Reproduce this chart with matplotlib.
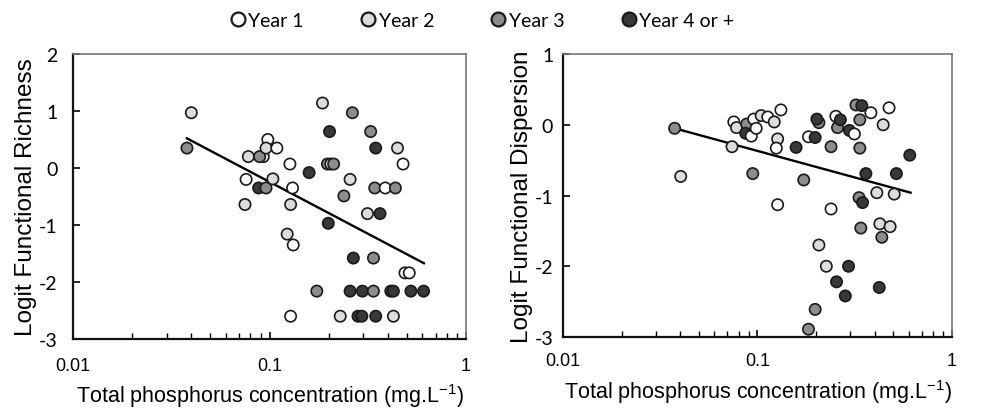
import numpy as np
import matplotlib
matplotlib.use("Agg")
import matplotlib.pyplot as plt
from matplotlib.lines import Line2D
from matplotlib.ticker import FixedLocator, LogLocator, NullFormatter

plt.rcParams['font.family'] = ['Liberation Sans', 'DejaVu Sans']
plt.rcParams['mathtext.fontset'] = 'custom'
plt.rcParams['mathtext.rm'] = 'Liberation Sans'
plt.rcParams['axes.unicode_minus'] = False

# legend / year classes
year_labels = ["Year 1", "Year 2", "Year 3", "Year 4 or +"]
year_colors = {1: "#ffffff", 2: "#dcdcdc", 3: "#8c8c8c", 4: "#383838"}

# left panel: functional richness
rich_tp = [0.040, 0.038, 0.078, 0.093, 0.089, 0.098, 0.096, 0.109, 0.076, 0.088,
           0.096, 0.104, 0.075, 0.186, 0.264, 0.202, 0.327, 0.347, 0.448, 0.478,
           0.127, 0.197, 0.205, 0.212, 0.159, 0.131, 0.257, 0.239, 0.343, 0.388,
           0.437, 0.128, 0.315, 0.365, 0.199, 0.123, 0.132, 0.267, 0.338, 0.489,
           0.514, 0.174, 0.257, 0.297, 0.338, 0.414, 0.427, 0.524, 0.608, 0.128,
           0.229, 0.282, 0.295, 0.347, 0.427]
rich_val = [0.97, 0.35, 0.20, 0.20, 0.20, 0.50, 0.35, 0.35, -0.20, -0.35,
            -0.35, -0.19, -0.64, 1.14, 0.97, 0.64, 0.64, 0.35, 0.35, 0.07,
            0.07, 0.07, 0.07, 0.07, -0.08, -0.35, -0.20, -0.49, -0.35, -0.35,
            -0.35, -0.64, -0.80, -0.80, -0.97, -1.16, -1.35, -1.58, -1.58, -1.84,
            -1.84, -2.16, -2.16, -2.16, -2.16, -2.16, -2.16, -2.16, -2.16, -2.60,
            -2.60, -2.60, -2.60, -2.60, -2.60]
rich_year = [2, 3, 2, 2, 3, 1, 2, 1, 1, 4,
             3, 2, 2, 2, 3, 4, 3, 4, 2, 1,
             1, 3, 2, 3, 4, 1, 2, 3, 3, 1,
             3, 2, 2, 4, 4, 2, 1, 4, 3, 1,
             1, 3, 4, 4, 3, 4, 4, 4, 4, 1,
             2, 4, 4, 4, 2]
rich_fit_x = [0.038, 0.61]
rich_fit_y = [0.52, -1.67]

# right panel: functional dispersion
disp_tp = [0.0375, 0.0403, 0.0756, 0.078, 0.074, 0.088, 0.087, 0.093, 0.0957, 0.0985,
           0.1045, 0.113, 0.122, 0.132, 0.127, 0.125, 0.0946, 0.127, 0.158, 0.173,
           0.183, 0.198, 0.207, 0.202, 0.239, 0.253, 0.258, 0.267, 0.297, 0.315,
           0.321, 0.344, 0.383, 0.475, 0.443, 0.336, 0.336, 0.607, 0.361, 0.518,
           0.411, 0.505, 0.333, 0.347, 0.239, 0.340, 0.426, 0.481, 0.436, 0.207,
           0.226, 0.294, 0.255, 0.283, 0.423, 0.198, 0.183]
disp_val = [-0.05, -0.73, 0.04, -0.04, -0.31, 0.01, -0.12, -0.16, 0.08, -0.05,
            0.13, 0.11, 0.04, 0.21, -0.20, -0.33, -0.69, -1.13, -0.32, -0.78,
            -0.17, -0.18, 0.03, 0.08, -0.31, 0.12, -0.04, 0.07, -0.08, -0.13,
            0.28, 0.27, 0.17, 0.24, 0.00, 0.07, -0.33, -0.43, -0.69, -0.69,
            -0.96, -0.98, -1.03, -1.10, -1.19, -1.46, -1.40, -1.44, -1.59, -1.70,
            -2.00, -2.00, -2.22, -2.42, -2.30, -2.61, -2.89]
disp_year = [3, 2, 1, 2, 2, 3, 4, 1, 1, 1,
             2, 1, 2, 1, 2, 1, 3, 1, 4, 3,
             1, 4, 3, 4, 3, 1, 3, 4, 4, 1,
             3, 4, 1, 1, 2, 3, 3, 4, 4, 4,
             2, 2, 3, 4, 1, 3, 2, 2, 3, 2,
             2, 4, 4, 4, 4, 3, 3]
disp_fit_x = [0.0375, 0.613]
disp_fit_y = [-0.05, -0.96]

fig = plt.figure(figsize=(9.88, 4.10), dpi=100)
ax1 = fig.add_axes([0.0739, 0.1707, 0.3978, 0.6951])
ax2 = fig.add_axes([0.5698, 0.1756, 0.3937, 0.6902])


def draw_panel(ax, tp, val, year, fit_x, fit_y, ylim, ylabel, xpad, ypad, ylab_x, xlab_y):
    ax.plot(fit_x, fit_y, color="black", lw=1.7, zorder=2)
    ax.scatter(tp, val, c=[year_colors[y] for y in year], s=66,
               edgecolors="#1a1a1a", linewidths=1.2, zorder=3)
    ax.set_xscale("log")
    ax.set_xlim(0.01, 1)
    ax.set_ylim(*ylim)
    ax.set_yticks(np.arange(ylim[0], ylim[1] + 1))
    ax.xaxis.set_major_locator(FixedLocator([0.01, 0.1, 1]))
    ax.set_xticklabels(["0.01", "0.1", "1"])
    ax.xaxis.set_minor_locator(LogLocator(base=10, subs=np.arange(2, 10)))
    ax.xaxis.set_minor_formatter(NullFormatter())
    ax.tick_params(axis="x", which="major", direction="in", length=5, width=1.2,
                   labelsize=13, pad=xpad)
    ax.tick_params(axis="x", which="minor", direction="in", length=4, width=1.0)
    ax.tick_params(axis="y", direction="in", length=5, width=1.2, labelsize=14, pad=ypad)
    for lab in ax.get_yticklabels():
        lab.set_family(["Lato", "DejaVu Sans"])
    for side in ["left", "bottom"]:
        ax.spines[side].set_linewidth(1.6)
        ax.spines[side].set_color("#111111")
    for side in ["top", "right"]:
        ax.spines[side].set_linewidth(1.2)
        ax.spines[side].set_color("#777777")
    ax.set_ylabel(ylabel, fontsize=17.5)
    ax.yaxis.set_label_coords(ylab_x, 0.5)
    ax.set_xlabel(r"Total phosphorus concentration (mg.L$\mathregular{^{-1}}$)", fontsize=15.5)
    ax.xaxis.set_label_coords(0.5, xlab_y)


draw_panel(ax1, rich_tp, rich_val, rich_year, rich_fit_x, rich_fit_y, (-3, 2),
           "Logit Functional Richness", 13, 11, -0.092, -0.147)
draw_panel(ax2, disp_tp, disp_val, disp_year, disp_fit_x, disp_fit_y, (-3, 1),
           "Logit Functional Dispersion", 11, 7, -0.077, -0.141)

handles = [Line2D([], [], ls="none", marker="o", markersize=10,
                  markerfacecolor=year_colors[k], markeredgecolor="#1a1a1a",
                  markeredgewidth=1.6) for k in [1, 2, 3, 4]]
fig.legend(handles, year_labels, loc="center", bbox_to_anchor=(0.488, 0.948), ncol=4,
           frameon=False, handlelength=0.8, handletextpad=0.15, columnspacing=2.9,
           prop={"family": ["Lato", "DejaVu Sans"], "size": 14})

fig.savefig("out.png", dpi=100)
